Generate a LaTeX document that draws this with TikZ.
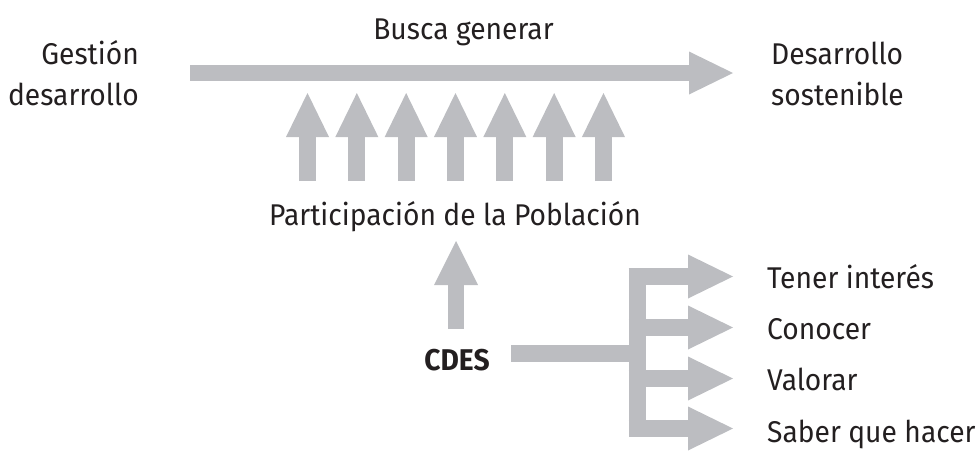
\documentclass[tikz,border=0pt]{standalone}
\usepackage{fontspec}
\setmainfont{Fira Sans}[FakeStretch=0.94]
\usetikzlibrary{arrows.meta}
\definecolor{arrowgray}{RGB}{188,189,193}
\definecolor{ink}{RGB}{35,31,32}
\begin{document}
\begin{tikzpicture}[x=1pt,y=-1pt,
  lbl/.style={inner sep=0pt, text=ink, font=\fontsize{30}{36}\selectfont},
  mainarrow/.style={draw=arrowgray, line width=16pt, line cap=butt,
    -{Triangle[width=43pt,length=44pt,line width=0pt]}},
  uparrow/.style={draw=arrowgray, line width=17pt, line cap=butt,
    -{Triangle[width=43pt,length=44pt,line width=0pt]}},
  branch/.style={draw=arrowgray, line width=17pt, line cap=butt,
    -{Triangle[width=44pt,length=45pt,line width=0pt]}},
  barline/.style={draw=arrowgray, line width=17pt, line cap=butt}]
\useasboundingbox (0,0) rectangle (977,450);

% labels
\node[lbl, anchor=base] (busca) at (463.5,39) {Busca generar};
\node[lbl, anchor=base east] (gest1) at (139,64) {Gestión};
\node[lbl, anchor=base east] (gest2) at (139,105) {desarrollo};
\node[lbl, anchor=base west] (des1) at (771,64) {Desarrollo};
\node[lbl, anchor=base west] (des2) at (771,105) {sostenible};
\node[lbl, anchor=base] (part) at (455,225) {Participación de la Población};
\node[lbl, anchor=base, font=\fontsize{30}{36}\selectfont\bfseries] (cdes) at (457,370) {CDES};
\node[lbl, anchor=base west] (t1) at (767,288) {Tener interés};
\node[lbl, anchor=base west] (t2) at (767,339) {Conocer};
\node[lbl, anchor=base west] (t3) at (767,390.5) {Valorar};
\node[lbl, anchor=base west] (t4) at (767,442) {Saber que hacer};

% main arrow
\coordinate (mS) at (190,73);
\coordinate (mE) at (733,73);
\draw[mainarrow] (mS) -- (mE);

% seven upward arrows
\foreach \i in {0,...,6} {
  \coordinate (u\i s) at ({307.5+49.33*\i},181);
  \coordinate (u\i e) at ({307.5+49.33*\i},93);
  \draw[uparrow] (u\i s) -- (u\i e);
}

% CDES up arrow
\coordinate (cS) at (456,329);
\coordinate (cE) at (456,241);
\draw[uparrow, line width=16pt, -{Triangle[width=44pt,length=44pt,line width=0pt]}] (cS) -- (cE);

% CDES to bar
\coordinate (bJ) at (637,353.5);
\coordinate (cdesR) at (511,353.5);
\draw[barline] (cdesR) -- (bJ);
\coordinate (vT) at (637,268);
\coordinate (vB) at (637,437);
\draw[barline] (vT) -- (vB);

% branches
\foreach \k/\yy in {1/276.5,2/327.5,3/378.5,4/428.5} {
  \coordinate (b\k s) at (628.5,\yy);
  \coordinate (b\k e) at (733,\yy);
  \draw[branch] (b\k s) -- (b\k e);
}
\end{tikzpicture}
\end{document}
